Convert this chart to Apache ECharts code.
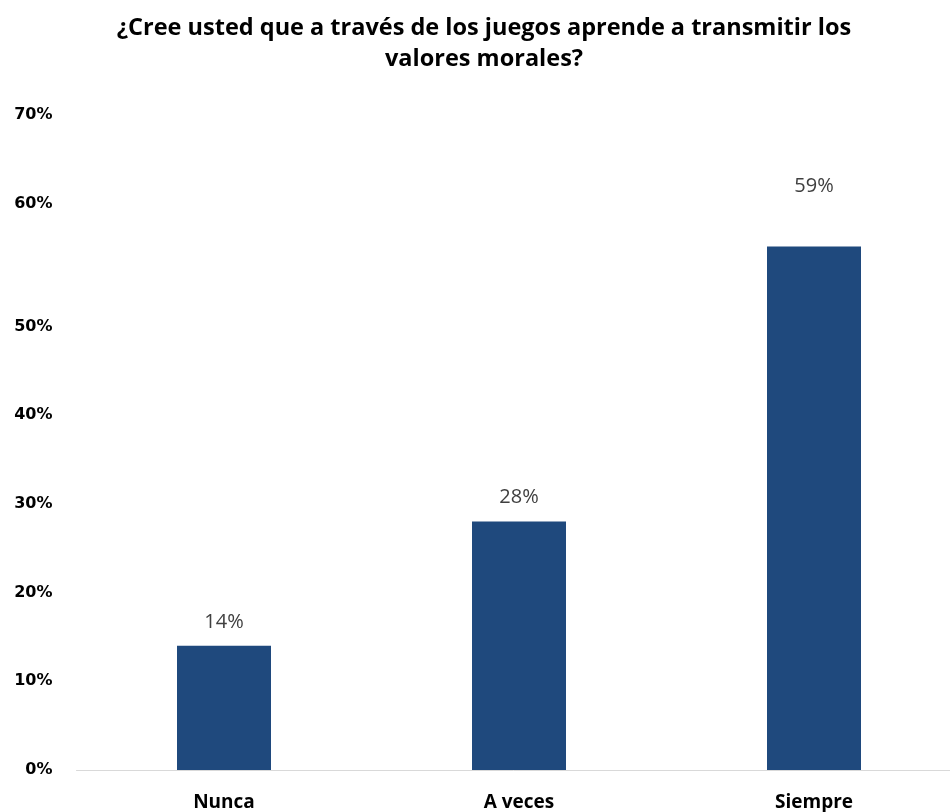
<!DOCTYPE html>
<html>
<head>
<meta charset="utf-8">
<script src="https://cdn.jsdelivr.net/npm/echarts@6/dist/echarts.min.js"></script>
<style>
	html, body { margin: 0; padding: 0; background: #fff; }
	#main { width: 950px; height: 812px; }
</style>
</head>
<body>
<div id="main"></div>
<script>
const categories = ['Nunca', 'A veces', 'Siempre']
const values = [14, 28, 59]
const yTicks = [0, 10, 20, 30, 40, 50, 60, 70]

const chart = echarts.init(document.getElementById('main'))

const barData = values.map((v, i) => {
	// the last label sits higher above its bar in the original
	if(i == 2){
		return { value: v, label: { distance: 50 } }
	}
	return v
})

chart.setOption({
	title: {
		text: '¿Cree usted que a través de los juegos aprende a transmitir los\nvalores morales?',
		left: 479,
		top: 8,
		textAlign: 'center',
		textStyle: {
			fontFamily: 'Open Sans',
			fontWeight: 'bold',
			fontSize: 23.5,
			lineHeight: 31,
			color: '#000'
		}
	},
	grid: {
		left: 76.5,
		width: 885,
		top: 149,
		bottom: 42,
		outerBoundsMode: 'none',
		containLabel: false
	},
	xAxis: {
		type: 'category',
		data: categories,
		axisLine: { lineStyle: { color: '#d9d9d9', width: 1 } },
		axisTick: { show: false },
		axisLabel: {
			margin: 23,
			fontFamily: 'Open Sans',
			fontWeight: 'bold',
			fontSize: 19,
			color: '#000'
		}
	},
	yAxis: {
		type: 'value',
		min: yTicks[0],
		max: yTicks[yTicks.length - 1],
		interval: 10,
		splitLine: { show: false },
		axisLine: { show: false },
		axisTick: { show: false },
		axisLabel: {
			margin: 24,
			// the two top labels are drawn higher than their ticks in the original
			formatter: (v) => v >= 60 ? `{up|${v}%}` : `${v}%`,
			rich: {
				up: {
					fontFamily: 'DejaVu Sans',
					fontWeight: 'bold',
					fontSize: 16,
					color: '#000',
					padding: [0, 0, 68, 0]
				}
			},
			fontFamily: 'DejaVu Sans',
			fontWeight: 'bold',
			fontSize: 16,
			color: '#000'
		}
	},
	series: [{
		type: 'bar',
		data: barData,
		barWidth: 94,
		itemStyle: { color: '#1f497d' },
		label: {
			show: true,
			position: 'top',
			distance: 14,
			formatter: '{c}%',
			fontFamily: 'Open Sans',
			fontSize: 20,
			color: '#404040'
		}
	}]
})
</script>
</body>
</html>
